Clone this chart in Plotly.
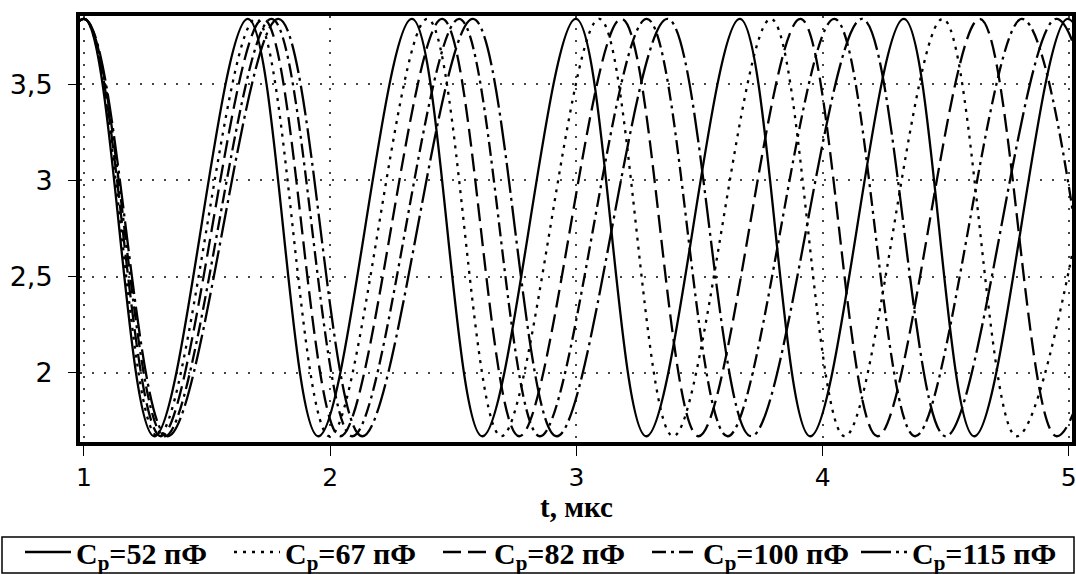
import plotly.graph_objects as go

# Extremum times (µs) and voltage values (troughs/peaks alternate)
t_52 = [0.620, 1.000, 1.286, 1.666, 1.952, 2.332, 2.618, 2.998, 3.284, 3.664, 3.950, 4.330, 4.616, 4.996, 5.282]
u_52 = [1.67, 3.84, 1.67, 3.84, 1.67, 3.84, 1.67, 3.84, 1.67, 3.84, 1.67, 3.84, 1.67, 3.84, 1.67]

t_67 = [0.602, 1.000, 1.300, 1.698, 1.998, 2.395, 2.695, 3.093, 3.393, 3.790, 4.090, 4.488, 4.788, 5.185]
u_67 = [1.67, 3.84, 1.67, 3.84, 1.67, 3.84, 1.67, 3.84, 1.67, 3.84, 1.67, 3.84, 1.67, 3.84]

t_82 = [0.585, 1.000, 1.313, 1.728, 2.041, 2.455, 2.768, 3.183, 3.496, 3.910, 4.223, 4.638, 4.951, 5.366]
u_82 = [1.67, 3.84, 1.67, 3.84, 1.67, 3.84, 1.67, 3.84, 1.67, 3.84, 1.67, 3.84, 1.67, 3.84]

t_100 = [0.566, 1.000, 1.328, 1.762, 2.090, 2.524, 2.852, 3.286, 3.614, 4.048, 4.376, 4.810, 5.138]
u_100 = [1.67, 3.84, 1.67, 3.84, 1.67, 3.84, 1.67, 3.84, 1.67, 3.84, 1.67, 3.84, 1.67]

t_115 = [0.550, 1.000, 1.340, 1.790, 2.130, 2.580, 2.920, 3.370, 3.710, 4.160, 4.500, 4.950, 5.290]
u_115 = [1.67, 3.84, 1.67, 3.84, 1.67, 3.84, 1.67, 3.84, 1.67, 3.84, 1.67, 3.84, 1.67]

series_names = ["C<sub>p</sub>=52 пФ", "C<sub>p</sub>=67 пФ", "C<sub>p</sub>=82 пФ",
                "C<sub>p</sub>=100 пФ", "C<sub>p</sub>=115 пФ"]

x_tickvals = [1, 2, 3, 4, 5]
x_ticktext = ["1", "2", "3", "4", "5"]
y_tickvals = [2, 2.5, 3, 3.5]
y_ticktext = ["2", "2,5", "3", "3,5"]
x_title = "t, мкс"

dashes = ["solid", "3px,6px", "18px,7px", "14px,5px,3px,5px", "30px,5px,3px,5px"]
data = [(t_52, u_52), (t_67, u_67), (t_82, u_82), (t_100, u_100), (t_115, u_115)]

fig = go.Figure()
for (tx, uy), name, dash in zip(data, series_names, dashes):
    fig.add_trace(go.Scatter(
        x=tx, y=uy, mode="lines", name=name,
        line=dict(color="black", width=2.3, dash=dash, shape="spline", smoothing=1.0),
    ))

L, R, T, B = 80, 4, 16, 132
W, H = 1076, 574
plot_w = W - L - R
plot_h = H - T - B


def px_x(p):
    return (p - L) / plot_w


def px_y(p):
    return (H - B - p) / plot_h


fig.update_layout(
    width=W, height=H,
    margin=dict(l=L, r=R, t=T, b=B, pad=0, autoexpand=False),
    paper_bgcolor="white", plot_bgcolor="white",
    showlegend=True,
    legend=dict(
        orientation="h",
        x=px_x(20), xanchor="left",
        y=px_y(552), yanchor="middle",
        borderwidth=0,
        font=dict(family="Liberation Serif", size=30, color="black", weight="bold"),
        itemwidth=46, entrywidth=148, entrywidthmode="pixels", tracegroupgap=0,
        bgcolor="rgba(0,0,0,0)",
    ),
    shapes=[dict(
        type="rect", xref="paper", yref="paper",
        x0=px_x(2), x1=px_x(1074), y0=px_y(573), y1=px_y(537),
        line=dict(color="black", width=1.5), fillcolor="rgba(0,0,0,0)", layer="below",
    )],
    xaxis=dict(
        range=[0.984, 5.013],
        tickvals=x_tickvals, ticktext=x_ticktext,
        ticks="outside", ticklen=10, tickwidth=1, tickcolor="black",
        showline=True, linewidth=4, linecolor="black", mirror=True,
        showgrid=True, gridcolor="#444", gridwidth=2, griddash="2px,10px",
        zeroline=False, ticklabeloverflow="allow",
        tickfont=dict(family="DejaVu Sans", size=25, color="black"),
    ),
    yaxis=dict(
        range=[1.640, 3.855],
        tickvals=y_tickvals, ticktext=y_ticktext,
        ticks="outside", ticklen=8, tickwidth=1, tickcolor="black",
        showline=True, linewidth=4, linecolor="black", mirror=True,
        showgrid=True, gridcolor="#444", gridwidth=2, griddash="2px,10px",
        zeroline=False,
        ticklabelstandoff=10,
        tickfont=dict(family="DejaVu Sans", size=27, color="black"),
    ),
    annotations=[dict(
        text=x_title, xref="paper", yref="paper",
        x=0.5, y=px_y(507), xanchor="center", yanchor="middle",
        showarrow=False,
        font=dict(family="Liberation Serif", size=29, color="black", weight="bold"),
    )],
)

fig.write_html("out.html")
